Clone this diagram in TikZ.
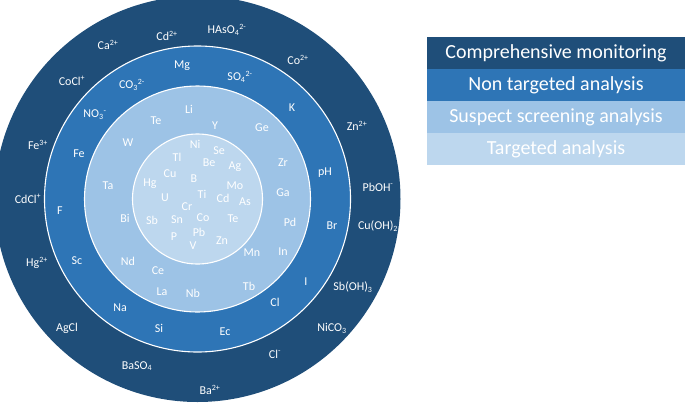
\documentclass[tikz,border=0pt]{standalone}
\usepackage{fontspec}
\setmainfont{Carlito}
\definecolor{cA}{HTML}{1F4E79}
\definecolor{cB}{HTML}{2E75B6}
\definecolor{cC}{HTML}{9DC3E6}
\definecolor{cD}{HTML}{BDD7EE}
\newcommand{\sbs}[1]{\textsubscript{#1}}
\newcommand{\sps}[1]{\textsuperscript{#1}}
\begin{document}
\begin{tikzpicture}[x=1pt,y=-1pt,
  lbl/.style={text=white,font=\fontsize{12}{12}\selectfont,inner sep=0pt},
  ringline/.style={draw=white,line width=1.1pt},
  legbox/.style={minimum width=258pt,minimum height=32pt,inner sep=0pt,text=white,font=\fontsize{20}{20}\selectfont,anchor=center}]
\useasboundingbox (0,0) rectangle (685,405);
\coordinate (O) at (197.5,199);
\begin{scope}
\clip (0,0) rectangle (685,405);
\fill[cA] (O) circle (203pt);
\end{scope}
\filldraw[fill=cB,ringline] (O) circle (153pt);
\filldraw[fill=cC,ringline] (O) circle (113pt);
\filldraw[fill=cD,ringline] (O) circle (65pt);
% outer ring
\node[lbl] (ca) at (108,45) {Ca\sps{2+}};
\node[lbl] (cd) at (167,36) {Cd\sps{2+}};
\node[lbl] (has) at (227,30) {HAsO\sbs{4}\sps{2-}};
\node[lbl] (co) at (298,60) {Co\sps{2+}};
\node[lbl] (zn) at (357,126) {Zn\sps{2+}};
\node[lbl] (pboh) at (378,187) {PbOH\sps{-}};
\node[lbl] (cuoh) at (378,226) {Cu(OH)\sbs{2}};
\node[lbl] (sboh) at (353,287) {Sb(OH)\sbs{3}};
\node[lbl] (nico) at (332,328) {NiCO\sbs{3}};
\node[lbl] (clm) at (275,354) {Cl\sps{-}};
\node[lbl] (ba) at (210,390) {Ba\sps{2+}};
\node[lbl] (baso) at (137,366) {BaSO\sbs{4}};
\node[lbl] (agcl) at (67,328) {AgCl};
\node[lbl] (hg) at (37,263) {Hg\sps{2+}};
\node[lbl] (cdcl) at (28,199) {CdCl\sps{+}};
\node[lbl] (fe3) at (38,145) {Fe\sps{3+}};
\node[lbl] (cocl) at (72,81) {CoCl\sps{+}};
% middle ring
\node[lbl] (mg) at (182,66) {Mg};
\node[lbl] (so4) at (240,77) {SO\sbs{4}\sps{2-}};
\node[lbl] (k) at (292,108) {K};
\node[lbl] (ph) at (325,173) {pH};
\node[lbl] (br) at (332,226) {Br};
\node[lbl] (i) at (306,282) {I};
\node[lbl] (cl) at (275,302) {Cl};
\node[lbl] (ec) at (225,332) {Ec};
\node[lbl] (si) at (159,328) {Si};
\node[lbl] (na) at (120,308) {Na};
\node[lbl] (sc) at (77,261) {Sc};
\node[lbl] (f) at (60,211) {F};
\node[lbl] (fe) at (79,154) {Fe};
\node[lbl] (no3) at (95,115) {NO\sbs{3}\sps{-}};
\node[lbl] (co3) at (132,85) {CO\sbs{3}\sps{2-}};
% third ring
\node[lbl] (li) at (189,109) {Li};
\node[lbl] (te1) at (156,121) {Te};
\node[lbl] (y) at (215,126) {Y};
\node[lbl] (ge) at (262,128) {Ge};
\node[lbl] (zr) at (283,163) {Zr};
\node[lbl] (ga) at (283,193) {Ga};
\node[lbl] (pd) at (290,222) {Pd};
\node[lbl] (in) at (283,252) {In};
\node[lbl] (mn) at (252,253) {Mn};
\node[lbl] (tb) at (249,286) {Tb};
\node[lbl] (nb) at (193,293) {Nb};
\node[lbl] (la) at (162,292) {La};
\node[lbl] (ce) at (158,271) {Ce};
\node[lbl] (nd) at (128,261) {Nd};
\node[lbl] (bi) at (125,218) {Bi};
\node[lbl] (ta) at (108,186) {Ta};
\node[lbl] (w) at (128,143) {W};
% inner circle
\node[lbl] (ni) at (195,144) {Ni};
\node[lbl] (tl) at (177,157) {Tl};
\node[lbl] (se) at (219,151) {Se};
\node[lbl] (be) at (209,163) {Be};
\node[lbl] (ag) at (235,167) {Ag};
\node[lbl] (cu) at (170,174) {Cu};
\node[lbl] (b) at (194,179) {B};
\node[lbl] (hgi) at (150,184) {Hg};
\node[lbl] (mo) at (235,186) {Mo};
\node[lbl] (ti) at (202,194) {Ti};
\node[lbl] (u) at (165,198) {U};
\node[lbl] (cdi) at (223,198) {Cd};
\node[lbl] (as) at (245,202) {As};
\node[lbl] (cr) at (187,207) {Cr};
\node[lbl] (sb) at (152,220) {Sb};
\node[lbl] (sn) at (177,220) {Sn};
\node[lbl] (coi) at (203,218) {Co};
\node[lbl] (te2) at (233,219) {Te};
\node[lbl] (pb) at (199,232) {Pb};
\node[lbl] (p) at (174,237) {P};
\node[lbl] (zni) at (222,241) {Zn};
\node[lbl] (v) at (193,246) {V};
% legend
\node[legbox,fill=cA] (leg1) at (556,53) {Comprehensive monitoring};
\node[legbox,fill=cB] (leg2) at (556,85) {Non targeted analysis};
\node[legbox,fill=cC] (leg3) at (556,117) {Suspect screening analysis};
\node[legbox,fill=cD] (leg4) at (556,149) {Targeted analysis};
\end{tikzpicture}
\end{document}
